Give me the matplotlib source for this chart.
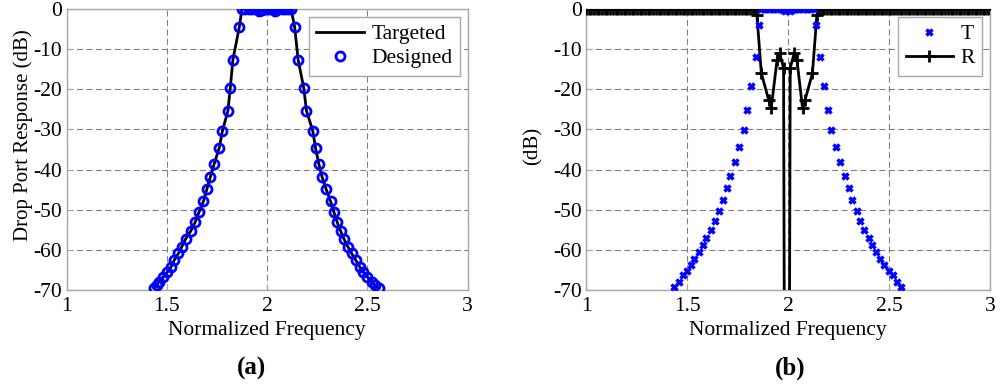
import numpy as np
import matplotlib
matplotlib.use("Agg")
import matplotlib.pyplot as plt

# ---- data ----
# (a) drop port response: targeted curve and designed points share the same samples
drop_freq = [1.438, 1.450, 1.462, 1.483, 1.503, 1.522, 1.538, 1.558, 1.575, 1.595,
             1.620, 1.642, 1.662, 1.683, 1.700, 1.717, 1.737, 1.762, 1.778, 1.805,
             1.817, 1.830, 1.862,
             1.875, 1.892, 1.910, 1.927, 1.944, 1.960, 1.977, 1.993, 2.008, 2.024,
             2.041, 2.057, 2.073, 2.090, 2.106, 2.120,
             2.138, 2.155, 2.183, 2.197, 2.228, 2.242, 2.258, 2.275, 2.295, 2.317,
             2.333, 2.350, 2.367, 2.383, 2.403, 2.422, 2.442, 2.462, 2.480, 2.500,
             2.522, 2.538, 2.558]
drop_db = [-69.6, -68.8, -67.9, -66.7, -65.5, -64.2, -62.5, -60.9, -59.2, -57.2,
           -55.3, -53.1, -50.5, -47.9, -44.9, -41.9, -38.5, -34.6, -30.3, -25.4,
           -19.6, -12.6, -4.5,
           0.0, 0.0, 0.0, 0.0, 0.0, -0.5, -0.2, 0.0, 0.0, 0.0,
           -0.5, 0.0, 0.0, 0.0, 0.0, 0.0,
           -4.5, -12.6, -19.6, -25.4, -30.3, -34.6, -38.5, -41.9, -44.9, -47.9,
           -50.5, -53.1, -55.3, -57.2, -59.2, -60.9, -62.5, -64.2, -65.5, -66.7,
           -67.9, -68.8, -69.6]

# (b) transmission T
t_freq = [1.436, 1.459, 1.480, 1.500, 1.520, 1.536, 1.561, 1.579, 1.596, 1.620,
          1.637, 1.657, 1.680, 1.698, 1.715, 1.739, 1.757, 1.781, 1.799, 1.817,
          1.840, 1.858,
          1.866, 1.879, 1.893, 1.906, 1.919, 1.933, 1.946, 1.959, 1.973, 1.986,
          2.008, 2.021, 2.035, 2.048, 2.061, 2.075, 2.088, 2.101, 2.115, 2.128,
          2.139, 2.157, 2.178, 2.196, 2.215, 2.239, 2.257, 2.281, 2.300, 2.317,
          2.342, 2.358, 2.376, 2.401, 2.417, 2.437, 2.457, 2.477, 2.498, 2.518,
          2.540, 2.561]
t_db = [-69.2, -67.9, -66.3, -65.2, -63.9, -62.2, -60.6, -58.9, -57.0, -55.0,
        -52.7, -50.3, -47.7, -44.7, -41.6, -38.2, -34.3, -30.1, -25.1, -19.3,
        -12.0, -3.9,
        0.0, 0.0, 0.0, 0.0, 0.0, 0.0, 0.0, 0.0, -0.3, -0.6,
        -0.6, -0.3, 0.0, 0.0, 0.0, 0.0, 0.0, 0.0, 0.0, 0.0,
        -3.9, -12.0, -19.3, -25.1, -30.1, -34.3, -38.2, -41.6, -44.7, -47.7,
        -50.3, -52.7, -55.0, -57.0, -58.9, -60.6, -62.2, -63.9, -65.2, -66.3,
        -67.9, -69.2]

# (b) reflection R: flat 0 dB outside the band on a uniform frequency grid
r_step = 0.0133
r_low_freq = np.arange(1.0, 1.84, r_step)
r_high_freq = np.arange(2.153, 3.001, r_step)
r_band_freq = [1.846, 1.868, 1.904, 1.917, 1.946, 1.958, 1.978, 1.9945,
               2.011, 2.031, 2.044, 2.072, 2.085, 2.121, 2.143]
r_band_db = [-1.5, -16.0, -22.6, -24.7, -12.6, -11.0, -14.7, -300.0,
             -14.7, -11.0, -12.6, -24.7, -22.6, -16.0, -1.5]

r_freq = np.concatenate([r_low_freq, r_band_freq, r_high_freq])
r_db = np.concatenate([np.zeros(len(r_low_freq)), r_band_db, np.zeros(len(r_high_freq))])

# ---- style ----
plt.rcParams['font.family'] = ['Liberation Serif', 'DejaVu Serif']
plt.rcParams['font.size'] = 15.5
plt.rcParams['axes.unicode_minus'] = False

fig = plt.figure(figsize=(10, 3.85), dpi=100)
ax1 = fig.add_axes([0.0665, 0.2468, 0.401, 0.7299])
ax2 = fig.add_axes([0.586, 0.2468, 0.404, 0.7299])

for ax in (ax1, ax2):
    ax.set_xlim(1, 3)
    ax.set_ylim(-70, 0)
    ax.set_xticks([1, 1.5, 2, 2.5, 3])
    ax.set_xticklabels(["1", "1.5", "2", "2.5", "3"])
    ax.set_yticks(np.arange(-70, 1, 10))
    ax.grid(True, color='#808080', linestyle=(0, (5.5, 3)), linewidth=0.8)
    for s in ax.spines.values():
        s.set_color('#a8a8a8')
        s.set_linewidth(1.0)
    ax.tick_params(direction='in', length=4, color='#a8a8a8', labelsize=15.5)
    ax.tick_params(axis='x', pad=5)
    ax.tick_params(axis='y', pad=3)
    ax.set_xlabel("Normalized Frequency", fontsize=15.5, labelpad=4)

# (a)
ax1.plot(drop_freq, drop_db, color='black', linewidth=2, label='Targeted', zorder=3)
ax1.plot(drop_freq, drop_db, linestyle='none', marker='o', markersize=6.5,
         markerfacecolor='none', markeredgecolor='blue', markeredgewidth=2,
         label='Designed', zorder=4)
ax1.set_ylabel("Drop Port Response (dB)", fontsize=15)
ax1.yaxis.set_label_coords(-0.083, 0.552)
leg1 = ax1.legend(loc='upper right', fancybox=False, framealpha=1,
                  edgecolor='#a8a8a8', borderaxespad=0.35, handlelength=2.2,
                  handletextpad=0.35, fontsize=15.5, labelspacing=0.2, borderpad=0.35)
leg1.get_frame().set_linewidth(1.0)

# (b)
ax2.plot(t_freq, t_db, linestyle='none', marker='x', markersize=4.5,
         markeredgewidth=2.5, color='blue', label='T', zorder=4)
ax2.plot(r_freq, r_db, color='black', linewidth=2, marker='+', markersize=8,
         markeredgewidth=2, label='R', zorder=3)
ax2.set_ylabel("(dB)", fontsize=15)
ax2.yaxis.set_label_coords(-0.108, 0.512)
leg2 = ax2.legend(loc='upper right', fancybox=False, framealpha=1,
                  edgecolor='#a8a8a8', borderaxespad=0.35, handlelength=2.2,
                  handletextpad=0.35, fontsize=15.5, labelspacing=0.2, borderpad=0.35)
leg2.get_frame().set_linewidth(1.0)

fig.text(0.252, 1 - 368 / 385, "(a)", ha='center', va='center', fontsize=18, fontweight='bold')
fig.text(0.790, 1 - 368 / 385, "(b)", ha='center', va='center', fontsize=18, fontweight='bold')

fig.savefig("out.png", dpi=100)
